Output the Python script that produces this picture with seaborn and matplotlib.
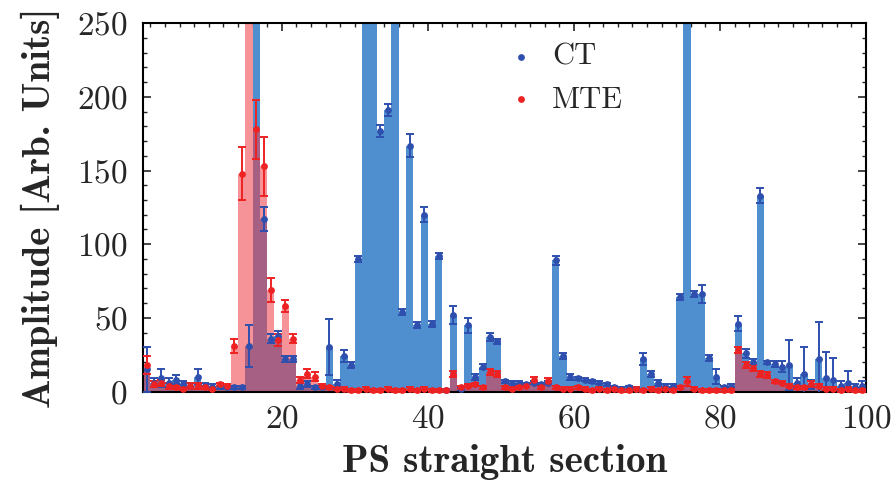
import numpy as np
import pandas as pd
import matplotlib
matplotlib.use("Agg")
import matplotlib.pyplot as plt
import seaborn as sns

# straight sections (bin i spans [i, i+1])
sections = list(range(1, 100))

ct = [15, 6, 9, 6, 8, 5, 4, 10, 4, 3,
      4, 3, 3, 3, 31, 320, 117, 36, 38, 22,
      22, 4, 5, 3, 3, 30, 5, 24, 18, 90,
      330, 330, 177, 191, 330, 54, 167, 45, 120, 46,
      92, 1, 52, 2, 45, 10, 17, 37, 34, 7,
      6, 6, 5, 6, 5, 6, 89, 24, 10, 9,
      8, 7, 6, 5, 3, 2, 3, 2, 22, 12,
      6, 4, 4, 64, 330, 66, 66, 23, 10, 3,
      4, 46, 26, 20, 133, 20, 19, 17, 18, 6,
      12, 5, 22, 9, 8, 4, 6, 3, 4]
ct_err = [15, 3, 6, 3, 3, 2, 2, 5, 2, 2,
          2, 1, 1, 1, 14, 10, 8, 3, 3, 2,
          2, 2, 2, 1, 1, 19, 3, 4, 2, 2,
          5, 5, 4, 4, 5, 2, 8, 2, 5, 2,
          2, 1, 6, 1, 5, 2, 2, 3, 2, 1,
          1, 1, 1, 1, 1, 1, 3, 2, 2, 1,
          1, 1, 1, 1, 1, 1, 1, 1, 4, 2,
          2, 1, 1, 2, 5, 2, 6, 2, 5, 1,
          1, 5, 3, 2, 5, 1, 2, 4, 17, 3,
          18, 3, 25, 18, 15, 3, 8, 2, 3]

mte = [18, 5, 6, 4, 3, 2, 4, 4, 3, 2,
       5, 4, 31, 148, 330, 178, 153, 69, 35, 58,
       36, 8, 12, 10, 4, 3, 2, 2, 1, 1,
       2, 1, 1, 2, 1, 1, 2, 1, 2, 1,
       1, 1, 12, 3, 4, 5, 3, 13, 12, 3,
       2, 3, 4, 8, 3, 7, 3, 2, 2, 3,
       2, 1, 2, 1, 2, 1, 1, 2, 1, 2,
       1, 2, 1, 3, 7, 2, 1, 1, 1, 1,
       1, 28, 18, 16, 12, 11, 7, 6, 4, 3,
       3, 5, 4, 2, 2, 1, 2, 1, 1]
mte_err = [6, 2, 2, 2, 1, 1, 2, 2, 1, 1,
           1, 1, 5, 18, 10, 20, 20, 8, 4, 4,
           3, 2, 3, 3, 1, 1, 1, 1, 1, 1,
           1, 1, 1, 1, 1, 1, 1, 1, 1, 1,
           1, 1, 2, 1, 1, 1, 1, 2, 2, 1,
           1, 1, 1, 2, 1, 2, 1, 1, 1, 1,
           1, 1, 1, 1, 1, 1, 1, 1, 1, 1,
           1, 1, 1, 1, 3, 1, 1, 1, 1, 1,
           1, 2, 2, 2, 2, 2, 1, 1, 1, 1,
           1, 2, 1, 1, 1, 1, 1, 1, 1]

df = pd.DataFrame({"section": sections, "CT": ct, "CT_err": ct_err,
                   "MTE": mte, "MTE_err": mte_err})
df["x"] = df["section"] + 0.5

BLUE_FILL = "#4f8fd0"
BLUE_PT = "#2e4fae"
RED_FILL = "#ee3a44"
RED_PT = "#ee2222"

sns.set_style("ticks")
plt.rcParams["font.family"] = ["cmr10", "DejaVu Serif"]
plt.rcParams["axes.formatter.use_mathtext"] = True

fig = plt.figure(figsize=(8.96, 4.84), dpi=100)
ax = fig.add_axes([0.1596, 0.191, 0.807, 0.761])

# filled step bars
sns.histplot(data=df, x="x", weights="CT", binwidth=1, binrange=(1, 100),
             element="step", fill=True, color=BLUE_FILL, alpha=1.0,
             linewidth=0, ax=ax)
sns.histplot(data=df, x="x", weights="MTE", binwidth=1, binrange=(1, 100),
             element="step", fill=True, color=RED_FILL, alpha=0.55,
             linewidth=0, ax=ax)

# points with error bars (only the visible ones)
vis_ct = df[df["CT"] < 250]
vis_mte = df[df["MTE"] < 250]
ax.errorbar(vis_ct["x"], vis_ct["CT"], yerr=vis_ct["CT_err"], fmt="none",
            ecolor=BLUE_PT, elinewidth=1.4, capsize=3.2, capthick=1.4, zorder=4)
ax.errorbar(vis_mte["x"], vis_mte["MTE"], yerr=vis_mte["MTE_err"], fmt="none",
            ecolor=RED_PT, elinewidth=1.4, capsize=3.2, capthick=1.4, zorder=5)
sns.scatterplot(data=vis_ct, x="x", y="CT", color=BLUE_PT, s=24, linewidth=0,
                ax=ax, zorder=6, label="CT", clip_on=False)
sns.scatterplot(data=vis_mte, x="x", y="MTE", color=RED_PT, s=24, linewidth=0,
                ax=ax, zorder=7, label="MTE", clip_on=False)

ax.set_xlim(1, 100)
ax.set_ylim(0, 250)
ax.set_xticks([20, 40, 60, 80, 100])
ax.set_yticks([0, 50, 100, 150, 200, 250])
ax.set_xticks(np.arange(2, 100, 2), minor=True)
ax.set_yticks(np.arange(0, 251, 10), minor=True)
ax.tick_params(which="both", direction="in", top=True, right=True,
               labelsize=24)
ax.tick_params(axis="x", which="major", pad=9)
ax.tick_params(axis="y", which="major", pad=11)
ax.tick_params(which="major", length=6, width=1.2)
ax.tick_params(which="minor", length=3, width=1.0)
for s in ax.spines.values():
    s.set_linewidth(1.5)
    s.set_color("black")

ax.set_xlabel("PS straight section", family=["cmb10", "DejaVu Serif"],
              fontsize=28, labelpad=8)
ax.set_ylabel("Amplitude [Arb. Units]", family=["cmb10", "DejaVu Serif"],
              fontsize=28, labelpad=12)

leg = ax.legend(loc="upper left", bbox_to_anchor=(0.46, 1.02), frameon=False,
                fontsize=22, markerscale=1.0, labelspacing=0.5,
                handletextpad=0.4, handlelength=1.2)

fig.savefig("out.png", dpi=100)
